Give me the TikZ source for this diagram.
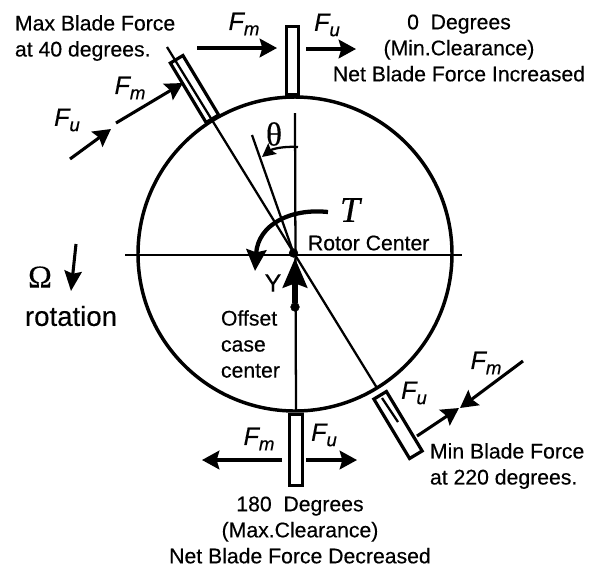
\documentclass[tikz,border=0pt]{standalone}
\usepackage{fontspec}
\setmainfont{Liberation Sans}[FakeBold=0.35]
\newfontfamily\symfont{Liberation Serif}[FakeBold=0.3]
\usetikzlibrary{arrows.meta,positioning}
\newcommand{\forcelab}[1]{\textit{F\lower 4pt\hbox{\fontsize{14}{14}\selectfont #1}}}

\begin{document}
\begin{tikzpicture}[
    x=0.75pt, y=-0.75pt,
    every node/.style={inner sep=0pt, outer sep=0pt},
    lab/.style={font=\fontsize{15.9}{19.5}\selectfont, align=center},
    flab/.style={font=\fontsize{18.8}{20}\selectfont},
    blade/.style={draw, line width=2.4pt, rectangle, minimum width=#1},
    blade/.default=10.5pt,
    force/.style={line width=2.3pt, -{Stealth[length=13pt,width=14pt,inset=2pt]}},
    thinline/.style={line width=1.7pt},
    dot/.style={draw, fill, circle, minimum size=6.5pt}
]
\useasboundingbox (0,0) rectangle (595,569);

\node[draw, circle, line width=2.6pt, minimum size=235.5pt] (rotor) at (295,254) {};
\node[blade=9pt, minimum height=51pt] (bladetop) at (292.5,60.5) {};
\node[blade=10pt, minimum height=53pt] (bladebot) at (296,450) {};
\node[blade=11pt, minimum height=52pt, rotate=31] (blademax) at (194.5,89) {};
\node[blade=11pt, minimum height=52pt, rotate=31] (blademin) at (398,425) {};

\node[dot] (center) at (293.5,253) {};
\node[dot] (offset) at (295,307) {};

\coordinate (hl) at (125,255);
\coordinate (hr) at (462,255);
\coordinate (vt) at (295,113);
\coordinate (vb) at (296,411);
\coordinate (st) at (167,47);
\coordinate (sb) at (377,388);
\coordinate (tt) at (252,135);
\coordinate (it) at (382,398);
\coordinate (ib) at (398,422);
\draw[thinline] (hl) -- (hr);
\draw[thinline] (vt) -- (vb);
\draw[thinline] (st) -- (sb);
\draw[thinline] (tt) -- (center);
\draw[thinline] (it) -- (ib);

\coordinate (arca) at (298,147);
\coordinate (arcb) at (262,157);
\draw[thinline, -{Stealth[length=10pt,width=10pt,inset=1.5pt]}] (arca) .. controls (284,146) and (272,149) .. (arcb);
\node[font=\symfont\fontsize{25}{25}\selectfont] (theta) at (274,134) {θ};

\coordinate (ta) at (328,212);
\coordinate (tb) at (255,271);
\draw[line width=3.2pt, -{Stealth[length=16pt,width=15pt,inset=2pt]}] (ta) .. controls (290,208) and (258,225) .. (tb);
\node[font=\symfont\itshape\fontsize{27}{27}\selectfont] (torque) at (350,210) {T};

\coordinate (ytip) at (295,258);
\draw[line width=5pt, -{Stealth[length=22pt,width=18pt,inset=3pt]}] (offset) -- (ytip);
\node[flab] (ylab) at (273,283) {Y};

\node[lab, anchor=west] (rotorlab) at (308,243) {Rotor Center};
\node[lab, anchor=west, align=left] (offsetlab) at (221,344) {Offset\\case\\center};

\coordinate (a1) at (197,48);
\coordinate (a2) at (277,48);
\draw[force] (a1) -- (a2);
\node[flab] (fm1) at (244,24) {\forcelab{m}};
\coordinate (b1) at (306,49);
\coordinate (b2) at (356,49);
\draw[force] (b1) -- (b2);
\node[flab] (fu1) at (327,25) {\forcelab{u}};

\coordinate (c1) at (116,123);
\coordinate (c2) at (183,83);
\draw[force] (c1) -- (c2);
\node[flab] (fm2) at (130,88) {\forcelab{m}};
\coordinate (d1) at (70,159);
\coordinate (d2) at (111,129);
\draw[force] (d1) -- (d2);
\node[flab] (fu2) at (67,120) {\forcelab{u}};

\coordinate (e1) at (282,460);
\coordinate (e2) at (202,460);
\draw[force] (e1) -- (e2);
\node[flab] (fm3) at (259,439) {\forcelab{m}};
\coordinate (f1) at (306,460);
\coordinate (f2) at (357,460);
\draw[force] (f1) -- (f2);
\node[flab] (fu3) at (324,435) {\forcelab{u}};

\coordinate (g1) at (417,436);
\coordinate (g2) at (459,408);
\draw[force] (g1) -- (g2);
\node[flab] (fu4) at (414,393) {\forcelab{u}};
\coordinate (h1) at (523,361);
\coordinate (h2) at (460,408);
\draw[force] (h1) -- (h2);
\node[flab] (fm4) at (486,363) {\forcelab{m}};

\node[lab, anchor=west, align=left] (maxlab) at (15,38) {Max Blade Force\\at 40 degrees.};
\node[lab, anchor=west, align=left] (minlab) at (430,466) {Min Blade Force\\at 220 degrees.};
\node[lab] (toplab) at (459,48) {0\ \ Degrees\\(Min.Clearance)\\Net Blade Force Increased};
\node[lab] (botlab) at (300,530) {180\ \ Degrees\\(Max.Clearance)\\Net Blade Force Decreased};

\node[font=\symfont\fontsize{24}{24}\selectfont] (omega) at (40,277) {Ω};
\coordinate (o1) at (76,244);
\coordinate (o2) at (71,291);
\draw[force, -{Stealth[length=15pt,width=13pt,inset=2pt]}] (o1) -- (o2);
\node[font=\fontsize{20.7}{24}\selectfont] (rotlab) at (71,316) {rotation};
\end{tikzpicture}
\end{document}
